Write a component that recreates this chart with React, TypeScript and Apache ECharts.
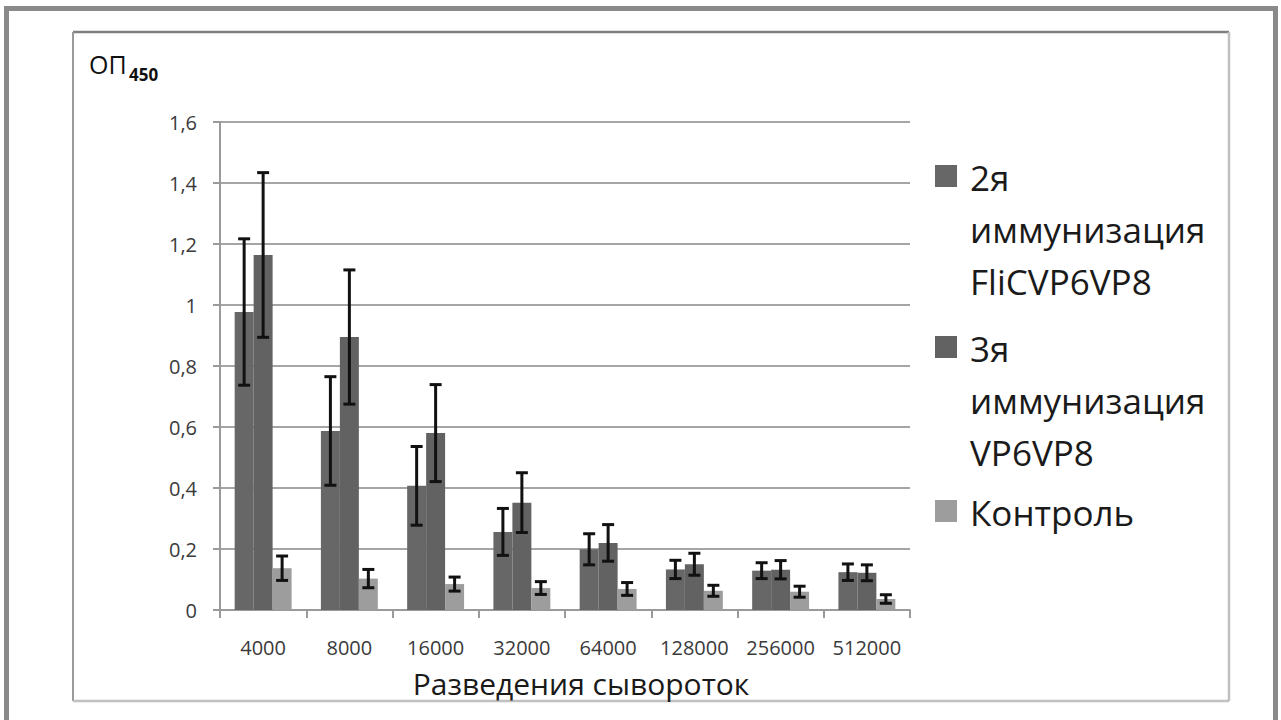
import React, { useEffect, useRef } from "react";
import * as echarts from "echarts";

const categories = ["4000", "8000", "16000", "32000", "64000", "128000", "256000", "512000"];
const seriesNames = ["2я иммунизация FliCVP6VP8", "3я иммунизация VP6VP8", "Контроль"];
const second = [0.977, 0.587, 0.407, 0.256, 0.199, 0.133, 0.129, 0.124];
const secondErr = [0.24, 0.178, 0.129, 0.077, 0.051, 0.03, 0.026, 0.027];
const third = [1.164, 0.895, 0.58, 0.352, 0.22, 0.15, 0.132, 0.122];
const thirdErr = [0.27, 0.22, 0.159, 0.098, 0.06, 0.036, 0.03, 0.026];
const control = [0.137, 0.103, 0.085, 0.072, 0.069, 0.063, 0.06, 0.036];
const controlErr = [0.04, 0.03, 0.023, 0.021, 0.021, 0.018, 0.018, 0.014];
const yTicks = { min: 0, max: 1.6, interval: 0.2 };

const FONT = "Open Sans";
const colors = ["#676767", "#626262", "#9d9d9d"];
const CAT_GAP = 0.34;

function errData(vals: number[], errs: number[]) {
  return vals.map((v, i) => [i, v - errs[i], v + errs[i]]);
}

function errSeries(name: string, idx: number, vals: number[], errs: number[]) {
  return {
    type: "custom",
    name,
    z: 5,
    data: errData(vals, errs),
    encode: { x: 0, y: [1, 2] },
    renderItem: (params: any, api: any) => {
      const i = api.value(0);
      const lo = api.coord([i, api.value(1)]);
      const hi = api.coord([i, api.value(2)]);
      const band = api.size([1, 0])[0];
      const barW = (band * (1 - CAT_GAP)) / 3;
      const x = lo[0] + (idx - 1) * barW;
      const cap = 6;
      const st = { stroke: "#111", lineWidth: 3 };
      return {
        type: "group",
        children: [
          { type: "line", shape: { x1: x, y1: lo[1], x2: x, y2: hi[1] }, style: st },
          { type: "line", shape: { x1: x - cap, y1: lo[1], x2: x + cap, y2: lo[1] }, style: st },
          { type: "line", shape: { x1: x - cap, y1: hi[1], x2: x + cap, y2: hi[1] }, style: st },
        ],
      };
    },
  };
}

const legendText = {
  fontSize: 35,
  lineHeight: 52,
  fontFamily: FONT,
  color: "#1a1a1a",
};

function legendFor(name: string, top: number, lines: number) {
  const h = 52 * lines;
  return {
    left: 935,
    top,
    orient: "vertical",
    padding: 0,
    itemGap: 0,
    itemWidth: 30,
    itemHeight: h,
    selectedMode: false,
    data: [{ name, icon: `path://M0,14H22V36H0Z M0,0L0,0 M30,${h}L30,${h}` }],
    formatter: (n: string) => n.split(" ").join("\n"),
    textStyle: legendText,
  };
}

export default function App() {
  const ref = useRef<HTMLDivElement>(null);
  useEffect(() => {
    document.body.style.margin = "0";
    const chart = echarts.init(ref.current!, undefined, { renderer: "svg" });
    const gray = "#9a9a9a";
    chart.setOption({
      animation: false,
      backgroundColor: "#ffffff",
      grid: { left: 220, right: 371, top: 122, bottom: 110, containLabel: false },
      legend: [
        legendFor(seriesNames[0], 151, 3),
        legendFor(seriesNames[1], 322, 3),
        legendFor(seriesNames[2], 486, 1),
      ],
      xAxis: {
        type: "category",
        data: categories,
        axisLine: { lineStyle: { color: gray, width: 2 } },
        axisTick: { show: true, length: 8, lineStyle: { color: gray, width: 2 } },
        axisLabel: { interval: 0, fontSize: 20, lineHeight: 18, fontFamily: FONT, color: "#3a3a3a", margin: 28 },
        name: "Разведения сывороток",
        nameLocation: "middle",
        nameGap: 60,
        nameTextStyle: { fontSize: 30, lineHeight: 26, fontFamily: FONT, color: "#1a1a1a", padding: [0, 0, 0, 32] },
      },
      yAxis: {
        type: "value",
        min: yTicks.min,
        max: yTicks.max,
        interval: yTicks.interval,
        axisLine: { show: true, lineStyle: { color: gray, width: 2 } },
        axisTick: { show: true, length: 7, lineStyle: { color: gray, width: 2 } },
        axisLabel: {
          fontSize: 20,
          fontFamily: FONT,
          color: "#3a3a3a",
          margin: 23,
          formatter: (v: number) => String(Math.round(v * 10) / 10).replace(".", ","),
        },
        splitLine: { lineStyle: { color: "#a5a5a5", width: 2 } },
      },
      series: [
        { type: "bar", name: seriesNames[0], data: second, itemStyle: { color: colors[0] }, barGap: "0%", barCategoryGap: "34%" },
        { type: "bar", name: seriesNames[1], data: third, itemStyle: { color: colors[1] }, barGap: "0%", barCategoryGap: "34%" },
        { type: "bar", name: seriesNames[2], data: control, itemStyle: { color: colors[2] }, barGap: "0%", barCategoryGap: "34%" },
        errSeries("err1", 0, second, secondErr),
        errSeries("err2", 1, third, thirdErr),
        errSeries("err3", 2, control, controlErr),
      ],
      graphic: [
        { type: "rect", silent: true, shape: { x: 6.5, y: 8.5, width: 1269, height: 800 }, style: { fill: "none", stroke: "#8a8a8a", lineWidth: 5 } },
        { type: "line", silent: true, shape: { x1: 73, y1: 32, x2: 1229, y2: 32 }, style: { stroke: "#808080", lineWidth: 2.5 } },
        { type: "line", silent: true, shape: { x1: 73, y1: 32, x2: 73, y2: 701 }, style: { stroke: "#9a9a9a", lineWidth: 2 } },
        { type: "line", silent: true, shape: { x1: 1229, y1: 32, x2: 1229, y2: 701 }, style: { stroke: "#c0c0c0", lineWidth: 2.5 } },
        { type: "line", silent: true, shape: { x1: 73, y1: 701, x2: 1229, y2: 701 }, style: { stroke: "#c0c0c0", lineWidth: 2.5 } },
        { type: "text", x: 89, y: 64, style: { text: "ОП", fontSize: 25, fontFamily: FONT, fill: "#111", verticalAlign: "middle" } },
        { type: "text", x: 129, y: 74, style: { text: "450", fontSize: 17, fontWeight: "bold", fontFamily: FONT, fill: "#111", verticalAlign: "middle" } },
      ],
    });
    return () => chart.dispose();
  }, []);
  return <div ref={ref} style={{ width: 1281, height: 720 }} />;
}
